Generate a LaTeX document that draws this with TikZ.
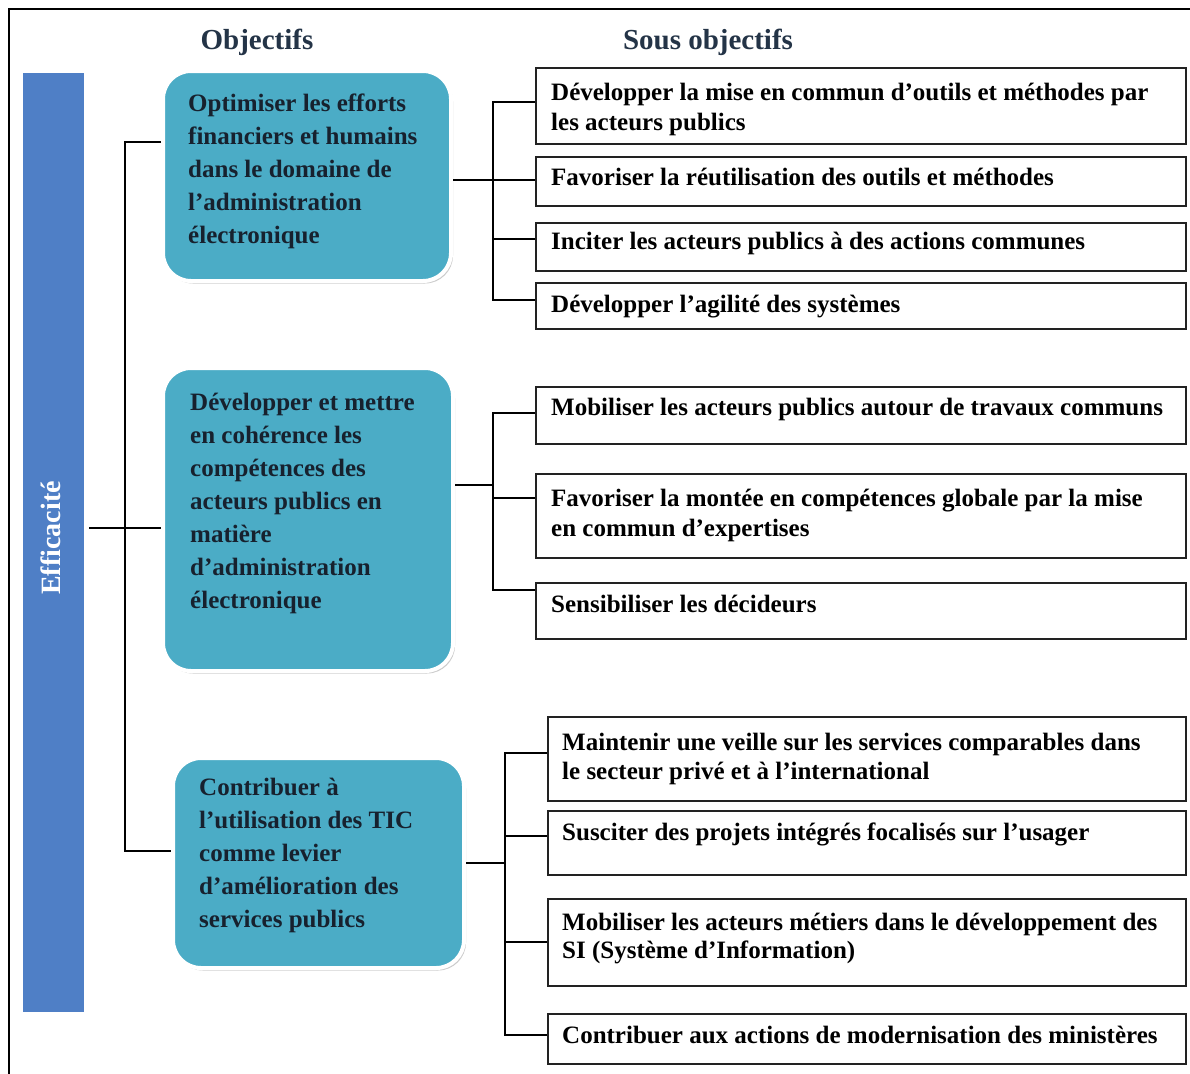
\documentclass[tikz,border=0pt]{standalone}
\usepackage{fontspec}
\setmainfont{Liberation Serif}
\usetikzlibrary{shadows}

\definecolor{barblue}{HTML}{4F7FC6}
\definecolor{objteal}{HTML}{4BACC6}
\definecolor{headnavy}{HTML}{243447}
\definecolor{objink}{HTML}{17212E}
\definecolor{boxline}{HTML}{222222}

% top-aligned block of lines: baseline of the node = baseline of first line
\newcommand\lnblock[2]{\parbox[t]{#1}{\raggedright #2}}

\begin{document}
\begin{tikzpicture}[x=1pt,y=-1pt,
  outerframe/.style={line width=2.6pt, black},
  link/.style={line width=2.8pt, black},
  barbox/.style={fill=barblue, draw=white, line width=5pt, inner sep=0pt,
    anchor=north west,
    drop shadow={shadow xshift=2pt, shadow yshift=-2pt, fill=black!45, opacity=0.45}},
  barlabel/.style={text=white, font=\fontsize{28}{30}\selectfont\bfseries, inner sep=0pt},
  objbox/.style={fill=objteal, draw=white, line width=4pt, rounded corners=28pt,
    inner sep=0pt, anchor=north west,
    drop shadow={shadow xshift=2pt, shadow yshift=-2.5pt, fill=black!45, opacity=0.45}},
  objlabel/.style={anchor=base west, inner sep=0pt, text=objink,
    font=\fontsize{25}{33}\selectfont\bfseries},
  subbox/.style={draw=boxline, line width=2pt, fill=white, inner sep=0pt,
    anchor=north west},
  sublabel/.style={anchor=base west, inner sep=0pt, text=black,
    font=\fontsize{25}{30}\selectfont\bfseries},
  head/.style={anchor=base, inner sep=0pt, text=headnavy,
    font=\fontsize{29}{30}\selectfont\bfseries}
]
\useasboundingbox (0,0) rectangle (1190,1073);
\clip (0,0) rectangle (1190,1073);
\fill[white] (0,0) rectangle (1190,1073);

% outer frame (runs past the right and bottom edges)
\draw[outerframe] (9,1100) -- (9,9) -- (1220,9);

% column headings
\node[head] (hobj) at (257,50) {Objectifs};
\node[head] (hsub) at (708,50) {Sous objectifs};

% vertical bar
\node[barbox, minimum width=66pt, minimum height=944pt] (bar) at (18,68) {};
\node[barlabel, rotate=90] (eff) at (51,538) {Efficacité};

% objectives
\node[objbox, minimum width=288pt, minimum height=210pt] (o1) at (161,69) {};
\node[objbox, minimum width=290pt, minimum height=303pt] (o2) at (161,366) {};
\node[objbox, minimum width=291pt, minimum height=210pt] (o3) at (171,756) {};

\node[objlabel] (o1t) at (188,111) {\lnblock{260pt}{Optimiser les efforts\\ financiers et humains\\ dans le domaine de\\ l’administration\\ électronique}};
\node[objlabel] (o2t) at (190,410) {\lnblock{260pt}{Développer et mettre\\ en cohérence les\\ compétences des\\ acteurs publics en\\ matière\\ d’administration\\ électronique}};
\node[objlabel] (o3t) at (199,795) {\lnblock{260pt}{Contribuer à\\ l’utilisation des TIC\\ comme levier\\ d’amélioration des\\ services publics}};

% sub-objectives, first group
\node[subbox, minimum width=650pt, minimum height=76pt] (sa) at (535,67) {};
\node[subbox, minimum width=650pt, minimum height=49pt] (sb) at (535,156) {};
\node[subbox, minimum width=650pt, minimum height=48pt] (sc) at (535,222) {};
\node[subbox, minimum width=650pt, minimum height=46pt] (sd) at (535,282) {};
% second group
\node[subbox, minimum width=650pt, minimum height=57pt] (se) at (535,386) {};
\node[subbox, minimum width=650pt, minimum height=84pt] (sf) at (535,473) {};
\node[subbox, minimum width=650pt, minimum height=56pt] (sg) at (535,582) {};
% third group
\node[subbox, minimum width=638pt, minimum height=84pt] (sh) at (547,716) {};
\node[subbox, minimum width=638pt, minimum height=64pt] (si) at (547,810) {};
\node[subbox, minimum width=638pt, minimum height=87pt] (sj) at (547,898) {};
\node[subbox, minimum width=638pt, minimum height=50pt] (sk) at (547,1013) {};

\node[sublabel] (sat) at (551,100) {\lnblock{630pt}{Développer la mise en commun d’outils et méthodes par\\ les acteurs publics}};
\node[sublabel] (sbt) at (551,185) {Favoriser la réutilisation des outils et méthodes};
\node[sublabel] (sct) at (551,249) {Inciter les acteurs publics à des actions communes};
\node[sublabel] (sdt) at (551,312) {Développer l’agilité des systèmes};
\node[sublabel] (set) at (551,415) {Mobiliser les acteurs publics autour de travaux communs};
\node[sublabel] (sft) at (551,506) {\lnblock{630pt}{Favoriser la montée en compétences globale par la mise\\ en commun d’expertises}};
\node[sublabel] (sgt) at (551,612) {Sensibiliser les décideurs};
\node[sublabel] (sht) at (562,750) {\lnblock{620pt}{Maintenir une veille sur les services comparables dans\\[-1pt] le secteur privé et à l’international}};
\node[sublabel] (sit) at (562,840) {Susciter des projets intégrés focalisés sur l’usager};
\node[sublabel] (sjt) at (562,930) {\lnblock{620pt}{Mobiliser les acteurs métiers dans le développement des\\[-2pt] SI (Système d’Information)}};
\node[sublabel] (skt) at (562,1043) {Contribuer aux actions de modernisation des ministères};

% junction points
\coordinate (lt) at (125,142);
\coordinate (lb) at (125,851);
\coordinate (lm) at (125,528);
\coordinate (j1a) at (493,102);
\coordinate (j1b) at (493,180);
\coordinate (j1c) at (493,239);
\coordinate (j1d) at (493,300);
\coordinate (j2e) at (493,413);
\coordinate (j2o) at (493,485);
\coordinate (j2f) at (493,498);
\coordinate (j2g) at (493,590);
\coordinate (j3h) at (505,753);
\coordinate (j3i) at (505,836);
\coordinate (j3o) at (505,863);
\coordinate (j3j) at (505,942);
\coordinate (j3k) at (505,1035);

% bar to objectives
\draw[link] (o1.west |- lt) -- (lt) -- (lb) -- (o3.west |- lb);
\draw[link] (bar.east |- lm) -- (o2.west |- lm);

% objective 1 to its sub-objectives
\draw[link] (sa.west |- j1a) -- (j1a) -- (j1d) -- (sd.west |- j1d);
\draw[link] (o1.east |- j1b) -- (sb.west |- j1b);
\draw[link] (j1c) -- (sc.west |- j1c);

% objective 2 to its sub-objectives
\draw[link] (se.west |- j2e) -- (j2e) -- (j2g) -- (sg.west |- j2g);
\draw[link] (o2.east |- j2o) -- (j2o);
\draw[link] (j2f) -- (sf.west |- j2f);

% objective 3 to its sub-objectives
\draw[link] (sh.west |- j3h) -- (j3h) -- (j3k) -- (sk.west |- j3k);
\draw[link] (j3i) -- (si.west |- j3i);
\draw[link] (o3.east |- j3o) -- (j3o);
\draw[link] (j3j) -- (sj.west |- j3j);
\end{tikzpicture}
\end{document}
